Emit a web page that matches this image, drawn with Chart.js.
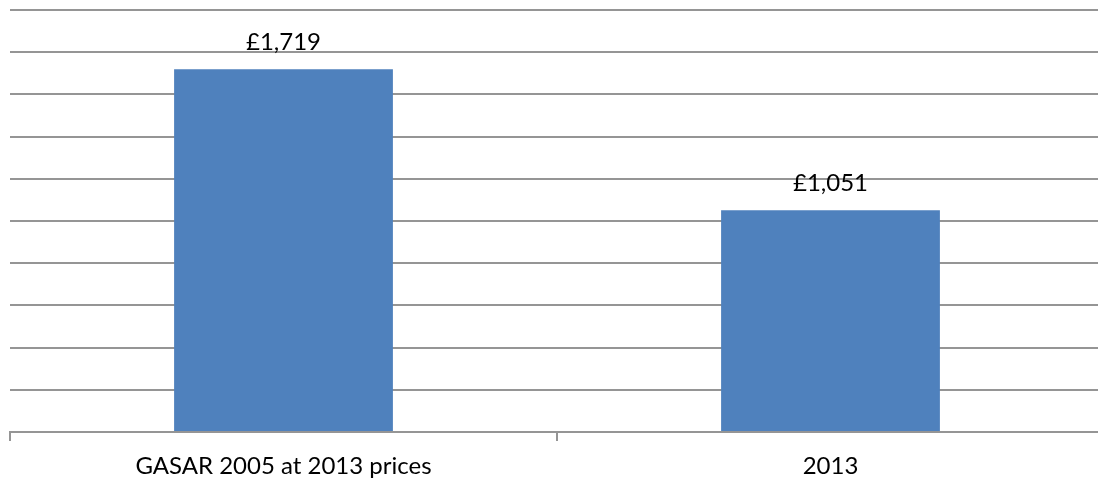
<!DOCTYPE html>
<html>
<head>
<meta charset="utf-8">
<script src="https://cdn.jsdelivr.net/npm/chart.js@4"></script>
<style>
    html, body { margin: 0; padding: 0; background: #fff; overflow: hidden; }
    #wrap { width: 1104px; height: 483px; }
</style>
</head>
<body>
<div id="wrap"><canvas id="diagram-canvas"></canvas></div>
<script>
// spending per head, GASAR 2005 (uprated) vs 2013
const categories = ["GASAR 2005 at 2013 prices", "2013"];
const spendValues = [1719, 1051];
const axisMax = 2000;
const axisStep = 200;

const gridGrey = "#959595";
const textFont = "Lato";
const textSize = 24;

// writes the £ value above each bar
const valueLabels = {
    id: "valueLabels",
    afterDatasetsDraw(chart) {
        const ctx = chart.ctx;
        const meta = chart.getDatasetMeta(0);
        ctx.save();
        ctx.font = textSize + "px " + textFont;
        ctx.fillStyle = "#000";
        ctx.textAlign = "center";
        ctx.textBaseline = "alphabetic";
        meta.data.forEach(function(bar, i) {
            const text = "£" + spendValues[i].toLocaleString("en-GB");
            ctx.fillText(text, bar.x, bar.y - 19);
        });
        ctx.restore();
    }
};

let chart;

document.addEventListener("DOMContentLoaded", function() {
    const diagramCanvas = document.getElementById("diagram-canvas");
    chart = new Chart(diagramCanvas, {
        type: "bar",
        data: {
            labels: categories,
            datasets: [{
                data: spendValues,
                backgroundColor: "#4f81bd",
                borderWidth: 0,
                barPercentage: 0.4,
                categoryPercentage: 1
            }]
        },
        options: {
            responsive: true,
            maintainAspectRatio: false,
            animation: false,
            layout: {
                padding: { left: 10, right: 0, top: 10, bottom: 0 }
            },
            plugins: {
                legend: { display: false },
                tooltip: { enabled: false }
            },
            scales: {
                x: {
                    afterFit: function(scale) {
                        scale.height = 51;
                    },
                    grid: {
                        offset: true,
                        drawOnChartArea: false,
                        drawTicks: true,
                        tickLength: 9,
                        color: gridGrey,
                        lineWidth: 2
                    },
                    border: { color: gridGrey, width: 2 },
                    ticks: {
                        color: "#000",
                        padding: 11,
                        font: { family: textFont, size: textSize }
                    }
                },
                y: {
                    min: 0,
                    max: axisMax,
                    ticks: { display: false, stepSize: axisStep },
                    grid: {
                        drawTicks: false,
                        color: gridGrey,
                        lineWidth: 2
                    },
                    border: { display: false }
                }
            }
        },
        plugins: [valueLabels]
    });
});
</script>
</body>
</html>
